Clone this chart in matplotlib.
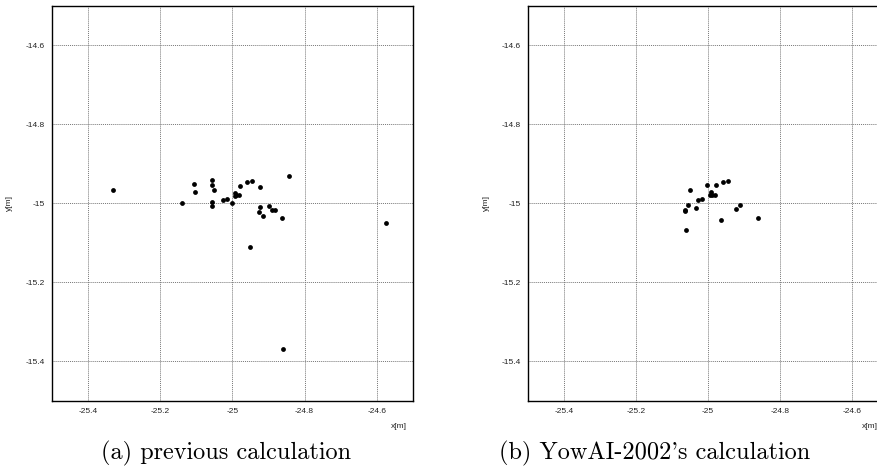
import matplotlib.pyplot as plt

# points (x[m], y[m])
prev_x = [-25.331, -25.140, -25.105, -25.103, -25.056, -25.056, -25.051,
          -25.056, -25.056, -25.027, -25.016, -25.000, -24.994, -24.994,
          -24.989, -24.982, -24.979, -24.960, -24.946, -24.923, -24.843,
          -24.923, -24.927, -24.915, -24.899, -24.891, -24.883, -24.863,
          -24.951, -24.859, -24.576]
prev_y = [-14.967, -15.000, -14.952, -14.972, -14.942, -14.954, -14.967,
          -14.996, -15.007, -14.992, -14.988, -14.999, -14.974, -14.981,
          -14.980, -14.980, -14.955, -14.947, -14.944, -14.958, -14.932,
          -15.008, -15.022, -15.033, -15.006, -15.017, -15.017, -15.037,
          -15.110, -15.368, -15.051]

yow_x = [-25.051, -25.003, -25.065, -25.065, -25.055, -25.062, -25.033,
         -25.027, -25.016, -24.993, -24.994, -24.988, -24.982, -24.977,
         -24.959, -24.945, -24.964, -24.923, -24.912, -24.862]
yow_y = [-14.967, -14.953, -15.016, -15.019, -15.005, -15.068, -15.013,
         -14.992, -14.988, -14.972, -14.980, -14.979, -14.980, -14.954,
         -14.947, -14.944, -15.043, -15.014, -15.005, -15.037]

x_ticks = [-25.4, -25.2, -25.0, -24.8, -24.6]
y_ticks = [-14.6, -14.8, -15.0, -15.2, -15.4]
# cmr10 puts the right quote at the ascii apostrophe
captions = ["(a) previous calculation", "(b) YowAI-2002's calculation"]

tick_font = "Liberation Sans"


def fmt(v):
    return f"{v:g}"


def setup(ax):
    ax.set_xlim(-25.5, -24.5)
    ax.set_ylim(-15.5, -14.5)
    ax.set_xticks(x_ticks)
    ax.set_yticks(y_ticks)
    ax.set_xticklabels([fmt(v) for v in x_ticks])
    ax.set_yticklabels([fmt(v) for v in y_ticks])
    ax.tick_params(length=0, labelsize=6, pad=5, colors="#222222")
    for lab in ax.get_xticklabels() + ax.get_yticklabels():
        lab.set_fontfamily(tick_font)
    ax.grid(True, color="#777777", linestyle=(0, (1, 1)), linewidth=0.7)
    for sp in ax.spines.values():
        sp.set_linewidth(1.0)
    ax.set_xlabel("x[m]", fontsize=6, fontfamily=tick_font, color="#222222")
    ax.set_ylabel("y[m]", fontsize=6, fontfamily=tick_font, color="#222222")


fig = plt.figure(figsize=(8.78, 4.66), dpi=100)
ax1 = fig.add_axes([0.0589, 0.1395, 0.4115, 0.8483])
ax2 = fig.add_axes([0.601, 0.1395, 0.4109, 0.8483])

for ax, xs, ys in [(ax1, prev_x, prev_y), (ax2, yow_x, yow_y)]:
    setup(ax)
    ax.scatter(xs, ys, s=12, color="black", zorder=3, linewidths=0)

ax1.xaxis.set_label_coords(0.961, -0.055)
ax2.xaxis.set_label_coords(0.949, -0.055)
ax1.yaxis.set_label_coords(-0.107, 0.5)
ax2.yaxis.set_label_coords(-0.104, 0.5)

fig.text(0.257, 0.028, captions[0], ha="center", va="center",
         fontsize=17.5, fontfamily="cmr10")
fig.text(0.7455, 0.028, captions[1], ha="center", va="center",
         fontsize=17.5, fontfamily="cmr10")

fig.savefig("out.png", dpi=100)
